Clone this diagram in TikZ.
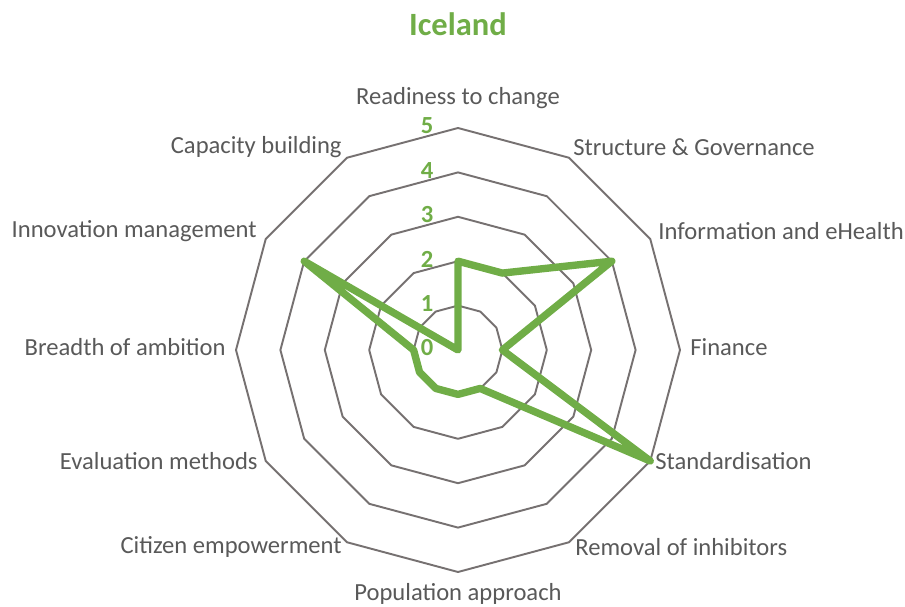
\documentclass[tikz,border=0pt]{standalone}
\usepackage{fontspec}
\setmainfont{Carlito}
\usetikzlibrary{positioning}
\definecolor{chartgreen}{HTML}{70AD47}
\definecolor{ringgray}{HTML}{767171}
\definecolor{labelgray}{HTML}{595959}

\begin{document}
\begin{tikzpicture}
  [
    x=0.02cm, y=0.02cm,
    Ring/.style={draw=ringgray, line width=1.1pt, line join=round},
    Axis/.style={text=labelgray, font=\fontsize{14}{16}\selectfont, inner sep=0pt},
    Tick/.style={text=chartgreen, font=\bfseries\fontsize{14}{16}\selectfont, inner sep=0pt},
    Title/.style={text=chartgreen, font=\bfseries\fontsize{18.5}{20}\selectfont, inner sep=0pt},
    Series/.style={draw=chartgreen, line width=4.2pt, line join=round, line cap=round}
  ]
  \useasboundingbox (-458,-257) rectangle (447,350);

  % Title
  \node[Title] (title) at (0, 326) {Iceland};

  % Rings
  \foreach \k in {1,...,5}
    \draw[Ring] (90:\k*44.4) \foreach \a in {60,30,...,-240} { -- (\a:\k*44.4) } -- cycle;

  % Scale labels
  \foreach \k in {0,...,5}
    \node[Tick] (tick\k) at (-31, \k*44.4+2) {\k};

  % Axis labels
  \node[Axis] (readiness) at (0, 252) {Readiness to change};
  \node[Axis, anchor=west] (structure) at (115, 203) {Structure \& Governance};
  \node[Axis, anchor=west] (information) at (200, 119) {Information and eHealth};
  \node[Axis, anchor=west] (finance) at (232, 3) {Finance};
  \node[Axis, anchor=west] (standard) at (197, -111) {Standardisation};
  \node[Axis, anchor=west] (removal) at (117, -197) {Removal of inhibitors};
  \node[Axis] (population) at (0, -244) {Population approach};
  \node[Axis, anchor=east] (citizen) at (-116, -197) {Citizen empowerment};
  \node[Axis, anchor=east] (evaluation) at (-200, -111) {Evaluation methods};
  \node[Axis, anchor=east] (breadth) at (-232, 3) {Breadth of ambition};
  \node[Axis, anchor=east] (innovation) at (-201, 119) {Innovation management};
  \node[Axis, anchor=east] (capacity) at (-116, 203) {Capacity building};

  % Scores (angle : value)
  \coordinate (sReadiness) at (90:2*44.4);
  \coordinate (sStructure) at (60:2*44.4);
  \coordinate (sInformation) at (30:4*44.4);
  \coordinate (sFinance) at (0:1*44.4);
  \coordinate (sStandard) at (-30:5*44.4);
  \coordinate (sRemoval) at (-60:1*44.4);
  \coordinate (sPopulation) at (-90:1*44.4);
  \coordinate (sCitizen) at (-120:1*44.4);
  \coordinate (sEvaluation) at (-150:1*44.4);
  \coordinate (sBreadth) at (180:1*44.4);
  \coordinate (sInnovation) at (150:4*44.4);
  \coordinate (sCapacity) at (0,0);

  % Series
  \draw[Series] (sReadiness) -- (sStructure) -- (sInformation) -- (sFinance)
    -- (sStandard) -- (sRemoval) -- (sPopulation) -- (sCitizen)
    -- (sEvaluation) -- (sBreadth) -- (sInnovation) -- (sCapacity) -- cycle;

\end{tikzpicture}
\end{document}
